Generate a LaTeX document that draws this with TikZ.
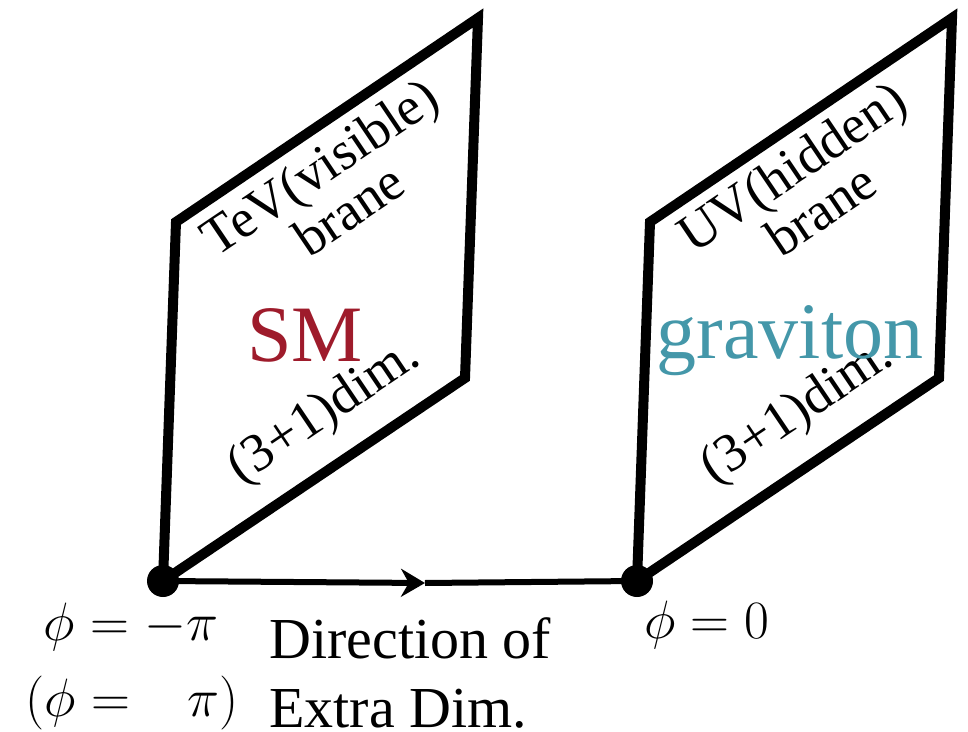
\RequirePackage{fix-cm}
\documentclass[tikz,border=0pt]{standalone}
\usepackage[no-math]{fontspec}
\setmainfont{Liberation Serif}
\usetikzlibrary{arrows.meta}
\definecolor{smred}{HTML}{9E1B2B}
\definecolor{gravteal}{HTML}{4497A9}

\begin{document}
\begin{tikzpicture}[x=0.5pt, y=-0.5pt,
      brane/.style={line width=5pt, line join=miter},
      dot/.style={circle, fill=black, inner sep=0pt, minimum size=16pt},
      extradim/.style={line width=3pt},
      branetext/.style={rotate=34, align=center, inner sep=0pt,
                        font=\fontsize{27pt}{26pt}\selectfont},
      fieldtext/.style={inner sep=0pt, anchor=base,
                        font=\fontsize{40pt}{40pt}\selectfont},
      axtext/.style={inner sep=0pt, anchor=base,
                     font=\fontsize{29pt}{34.5pt}\selectfont},
      phitext/.style={inner sep=0pt, anchor=base,
                      font=\fontsize{27pt}{32pt}\selectfont},
    ]
      \useasboundingbox (0,0) rectangle (968,732);
      % branes
      \coordinate (tevBL) at (163,581);
      \coordinate (tevTL) at (176,222);
      \coordinate (tevTR) at (478,18);
      \coordinate (tevBR) at (465,378);
      \coordinate (uvBL) at (637,581);
      \coordinate (uvTL) at (650,222);
      \coordinate (uvTR) at (952,18);
      \coordinate (uvBR) at (939,378);
      \draw[brane] (tevBL) -- (tevTL) -- (tevTR) -- (tevBR) -- cycle;
      \draw[brane] (uvBL) -- (uvTL) -- (uvTR) -- (uvBR) -- cycle;
      % extra dimension
      \node[dot] (tevpt) at (tevBL) {};
      \node[dot] (uvpt) at (uvBL) {};
      \coordinate (arrowtip) at (425,583);
      \draw[extradim, -{Stealth[length=12pt, width=14pt]}] (tevpt.center) -- (arrowtip);
      \draw[extradim] (arrowtip) -- (uvpt.center);
      % labels on the branes
      \node[branetext] (tevlbl) at (334,188) {TeV(visible)\\brane};
      \node[branetext] (tevdim) at (325,413) {(3+1)dim.};
      \node[fieldtext, text=smred] (smlbl) at (305,362) {SM};
      \node[branetext] (uvlbl) at (806,188) {UV(hidden)\\brane};
      \node[branetext] (uvdim) at (798,413) {(3+1)dim.};
      \node[fieldtext, text=gravteal] (gravlbl) at (790,358) {graviton};
      % labels on the axis
      \node[phitext] (tevphi) at (131,640) {$\phi = -\pi$};
      \node[phitext] (tevphialt) at (132,716) {$(\phi = \phantom{-}\pi)$};
      \node[axtext, anchor=base west, align=left] (dirlbl) at (269,727) {Direction of\\Extra Dim.};
      \node[phitext] (uvphi) at (707,638) {$\phi = 0$};
    \end{tikzpicture}
\end{document}
